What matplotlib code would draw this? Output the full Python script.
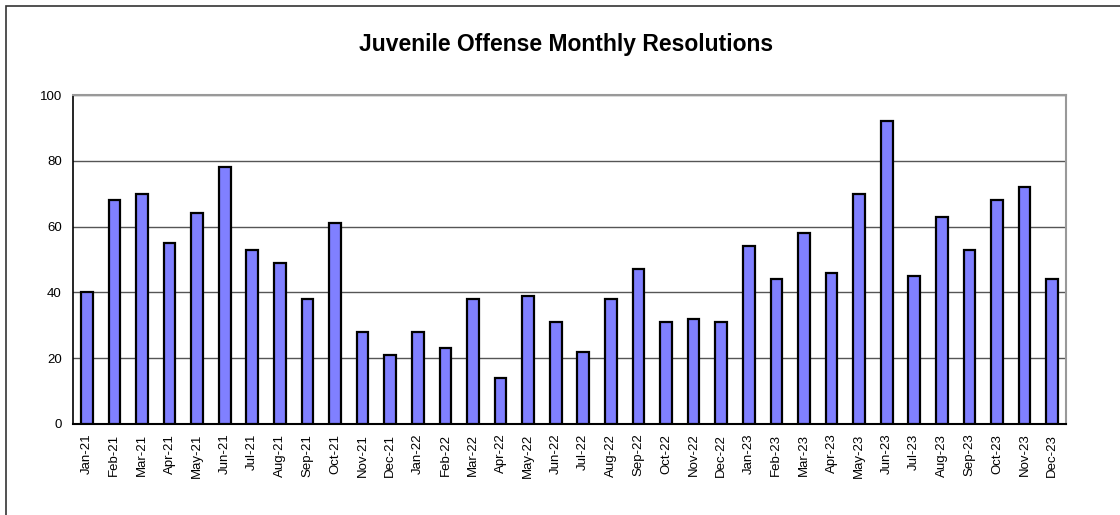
import matplotlib
matplotlib.use("Agg")
import matplotlib.pyplot as plt
from matplotlib.patches import Rectangle

categories = ["Jan-21", "Feb-21", "Mar-21", "Apr-21", "May-21", "Jun-21", "Jul-21", "Aug-21",
              "Sep-21", "Oct-21", "Nov-21", "Dec-21", "Jan-22", "Feb-22", "Mar-22", "Apr-22",
              "May-22", "Jun-22", "Jul-22", "Aug-22", "Sep-22", "Oct-22", "Nov-22", "Dec-22",
              "Jan-23", "Feb-23", "Mar-23", "Apr-23", "May-23", "Jun-23", "Jul-23", "Aug-23",
              "Sep-23", "Oct-23", "Nov-23", "Dec-23"]
values = [40, 68, 70, 55, 64, 78, 53, 49, 38, 61, 28, 21,
          28, 23, 38, 14, 39, 31, 22, 38, 47, 31, 32, 31,
          54, 44, 58, 46, 70, 92, 45, 63, 53, 68, 72, 44]
yticks = [0, 20, 40, 60, 80, 100]
title = "Juvenile Offense Monthly Resolutions"

plt.rcParams['font.family'] = ['Liberation Sans', 'DejaVu Sans']

fig = plt.figure(figsize=(11.2, 5.15), dpi=100)
W, H = 1120, 515
# outer chart border
fig.patches.append(Rectangle((6 / W, -0.1), 1.2, 1 - 6 / H + 0.1, transform=fig.transFigure,
                             fill=False, edgecolor='#333333', linewidth=1.2))

ax = fig.add_axes([73 / W, 1 - 424 / H, (1066 - 73) / W, (424 - 95) / H])
x = list(range(len(categories)))
ax.bar(x, values, width=0.42, color='#8080FF', edgecolor='black', linewidth=1.6, zorder=3)
ax.set_xlim(-0.5, len(categories) - 0.5)
ax.set_ylim(0, 100)
ax.set_yticks(yticks)
ax.set_yticklabels([str(v) for v in yticks], fontsize=9.5)
ax.set_xticks(x)
ax.set_xticklabels(categories, rotation=90, fontsize=9.5)
ax.tick_params(axis='both', length=0, pad=8)
ax.tick_params(axis='x', pad=7)
ax.grid(axis='y', color='#555555', linewidth=1.0, zorder=0)
for s in ['top', 'right']:
    ax.spines[s].set_color('#999999')
    ax.spines[s].set_linewidth(1.5)
ax.spines['left'].set_color('black')
ax.spines['bottom'].set_color('black')
ax.spines['left'].set_linewidth(1.2)
ax.spines['bottom'].set_linewidth(1.5)

fig.text(566 / W, 1 - 44 / H, title, ha='center', va='center', fontsize=16.5, fontweight='bold')

fig.savefig("out.png", dpi=100)
